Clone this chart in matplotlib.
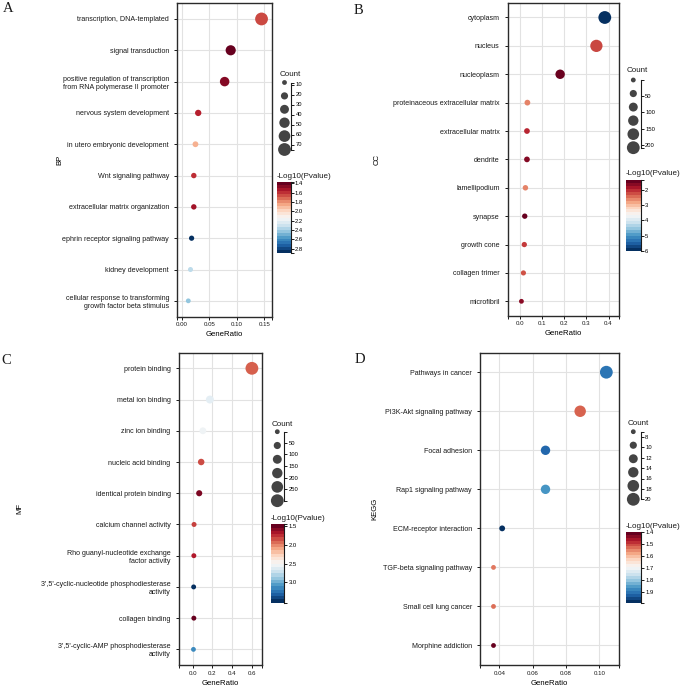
import numpy as np
import matplotlib
matplotlib.use("Agg")
import matplotlib.pyplot as plt
from matplotlib import cm, colors, ticker

plt.rcParams['font.family'] = ['Liberation Sans', 'DejaVu Sans']
plt.rcParams['text.color'] = '#1a1a1a'

W, H = 685, 688

# BP
bp_terms = ["transcription, DNA-templated", "signal transduction",
            "positive regulation of transcription\nfrom RNA polymerase II promoter",
            "nervous system development", "in utero embryonic development",
            "Wnt signaling pathway", "extracellular matrix organization",
            "ephrin receptor signaling pathway", "kidney development",
            "cellular response to transforming\ngrowth factor beta stimulus"]
bp_ratio = [0.145, 0.089, 0.078, 0.030, 0.025, 0.022, 0.022, 0.018, 0.016, 0.012]
bp_count = [75, 46, 40, 16, 13, 11, 11, 10, 9, 8]
bp_logp = [1.64, 1.38, 1.44, 1.55, 1.87, 1.58, 1.50, 2.90, 2.34, 2.44]

# CC
cc_terms = ["cytoplasm", "nucleus", "nucleoplasm", "proteinaceous extracellular matrix",
            "extracellular matrix", "dendrite", "lamellipodium", "synapse",
            "growth cone", "collagen trimer", "microfibril"]
cc_ratio = [0.383, 0.345, 0.181, 0.033, 0.031, 0.031, 0.024, 0.021, 0.019, 0.015, 0.006]
cc_count = [208, 188, 99, 18, 17, 17, 13, 11, 10, 8, 3]
cc_logp = [6.0, 2.1, 1.36, 2.5, 1.89, 1.52, 2.5, 1.33, 2.03, 2.17, 1.56]

# MF
mf_terms = ["protein binding", "metal ion binding", "zinc ion binding",
            "nucleic acid binding", "identical protein binding",
            "calcium channel activity",
            "Rho guanyl-nucleotide exchange\nfactor activity",
            "3',5'-cyclic-nucleotide phosphodiesterase\nactivity",
            "collagen binding",
            "3',5'-cyclic-AMP phosphodiesterase\nactivity"]
mf_ratio = [0.598, 0.174, 0.103, 0.086, 0.066, 0.014, 0.012, 0.010, 0.012, 0.008]
mf_count = [299, 87, 52, 43, 33, 7, 6, 5, 6, 3]
mf_logp = [1.87, 2.60, 2.54, 1.81, 1.51, 1.78, 1.66, 3.54, 1.45, 3.16]

# KEGG
kegg_terms = ["Pathways in cancer", "PI3K-Akt signaling pathway", "Focal adhesion",
              "Rap1 signaling pathway", "ECM-receptor interaction",
              "TGF-beta signaling pathway", "Small cell lung cancer",
              "Morphine addiction"]
kegg_ratio = [0.1042, 0.0885, 0.0677, 0.0677, 0.0417, 0.0365, 0.0365, 0.0365]
kegg_count = [20, 17, 13, 13, 8, 7, 7, 7]
kegg_logp = [1.91, 1.52, 1.93, 1.87, 1.99, 1.54, 1.53, 1.40]

SMIN, SMAX = 12, 85
INK = '#1a1a1a'


def rect(x0, y0, x1, y1):
    return [x0 / W, 1 - y1 / H, (x1 - x0) / W, (y1 - y0) / H]


def sizes(vals, cmin, cmax):
    vals = np.asarray(vals, dtype=float)
    return SMIN + (vals - cmin) / (cmax - cmin) * (SMAX - SMIN)


def panel(fig, letter, ylabel, terms, ratio, count, logp, box, xlim, xticks, xfmt,
          letter_xy, ylab_x, xlab_y, leg, size_ticks, cbar_ticks, cbar_fmt):
    ax = fig.add_axes(rect(*box))
    cmin, cmax = min(count), max(count)
    norm = colors.Normalize(min(logp), max(logp))
    y = np.arange(len(terms))
    ax.scatter(ratio, y, s=sizes(count, cmin, cmax), c=logp, cmap='RdBu', norm=norm,
               edgecolors='none', zorder=3)
    ax.set_yticks(y, terms, fontsize=5.1)
    ax.set_ylim(len(terms) - 0.5, -0.5)
    ax.set_xlim(*xlim)
    ax.set_xticks(xticks)
    ax.xaxis.set_major_formatter(ticker.FormatStrFormatter(xfmt))
    ax.set_xticks(xlim, minor=True)
    ax.tick_params(axis='x', labelsize=4.4, pad=2)
    ax.tick_params(which='both', length=2.2, width=0.7, color=INK, labelcolor=INK)
    ax.grid(True, color='#e2e2e2', lw=0.8)
    ax.set_axisbelow(True)
    for s in ax.spines.values():
        s.set_linewidth(1.0)
        s.set_color('#2a2a2a')
    ax.set_xlabel('GeneRatio', fontsize=5.6, va='center')
    ax.set_ylabel(ylabel, fontsize=5.6, va='center')
    ax.xaxis.set_label_coords(((box[0] + box[2]) / 2) / W, 1 - xlab_y / H, transform=fig.transFigure)
    ax.yaxis.set_label_coords(ylab_x / W, 1 - ((box[1] + box[3]) / 2) / H, transform=fig.transFigure)
    fig.text(letter_xy[0] / W, 1 - letter_xy[1] / H, letter, family='Liberation Serif',
             fontsize=10.5, va='center', ha='left')

    # size legend
    lx, sx, ly0, ly1 = leg['dots']
    lax = fig.add_axes(rect(lx, ly0, sx, ly1))
    keys = np.linspace(cmin, cmax, 6)
    lax.scatter(np.zeros(6), keys, s=sizes(keys, cmin, cmax), color='#444444',
                edgecolors='none', clip_on=False)
    lax.set_xlim(0, 1)
    lax.set_ylim(cmax, cmin)
    for k in ['left', 'top', 'bottom']:
        lax.spines[k].set_visible(False)
    lax.spines['right'].set_linewidth(0.8)
    lax.spines['right'].set_color(INK)
    lax.set_xticks([])
    lax.yaxis.tick_right()
    lax.set_yticks(size_ticks)
    lax.set_yticks([cmin, cmax], minor=True)
    lax.tick_params(which='both', length=2.2, width=0.7, labelsize=4.2, pad=1, color=INK)
    lax.patch.set_visible(False)
    tx, ty = leg['count_title']
    fig.text(tx / W, 1 - ty / H, 'Count', fontsize=5.8, va='center', ha='left')

    # colour bar
    cx0, cx1, cy0, cy1 = leg['cbar']
    cax = fig.add_axes(rect(cx0, cy0, cx1, cy1))
    sm = cm.ScalarMappable(norm=norm, cmap=plt.get_cmap('RdBu', 24))
    cb = fig.colorbar(sm, cax=cax, ticks=cbar_ticks, format=cbar_fmt)
    cb.outline.set_visible(False)
    cax.invert_yaxis()
    cax.spines['right'].set_visible(True)
    cax.spines['right'].set_linewidth(0.8)
    cax.spines['right'].set_color(INK)
    cb.minorticks_off()
    cax.set_yticks([norm.vmin, norm.vmax], minor=True)
    cax.tick_params(which='both', length=2.2, width=0.7, labelsize=4.2, pad=1, color=INK)
    tx, ty = leg['cbar_title']
    fig.text(tx / W, 1 - ty / H, '-Log10(Pvalue)', fontsize=5.8, va='center', ha='left')
    return ax


def main():
    fig = plt.figure(figsize=(W / 100, H / 100), dpi=100)

    panel(fig, 'A', 'BP', bp_terms, bp_ratio, bp_count, bp_logp,
          (177, 3.3, 272, 316.5), (-0.0085, 0.164), [0, 0.05, 0.10, 0.15], '%.2f',
          (3, 8), 60, 334,
          {'dots': (284.5, 291, 82.5, 149.5), 'count_title': (279.3, 74),
           'cbar': (277.3, 290.5, 182.3, 253.3), 'cbar_title': (276.7, 176.7)},
          [10, 20, 30, 40, 50, 60, 70], [1.4, 1.6, 1.8, 2.0, 2.2, 2.4, 2.6, 2.8], '%.1f')

    panel(fig, 'B', 'CC', cc_terms, cc_ratio, cc_count, cc_logp,
          (507.5, 3.3, 618.5, 315.5), (-0.057, 0.445), [0, 0.1, 0.2, 0.3, 0.4], '%.1f',
          (354, 10), 376.7, 333.3,
          {'dots': (633.3, 640.7, 80, 147.7), 'count_title': (626.7, 71),
           'cbar': (626, 640.5, 180, 250.7), 'cbar_title': (626, 173.3)},
          [50, 100, 150, 200], [2, 3, 4, 5, 6], '%d')

    panel(fig, 'C', 'MF', mf_terms, mf_ratio, mf_count, mf_logp,
          (178.5, 352.7, 262, 665), (-0.143, 0.70), [0, 0.2, 0.4, 0.6], '%.1f',
          (1, 360.7), 20, 683.3,
          {'dots': (277.3, 284, 431.7, 500.7), 'count_title': (271.7, 424),
           'cbar': (271, 284, 524.3, 602.7), 'cbar_title': (271, 519)},
          [50, 100, 150, 200, 250], [1.5, 2.0, 2.5, 3.0], '%.1f')

    panel(fig, 'D', 'KEGG', kegg_terms, kegg_ratio, kegg_count, kegg_logp,
          (480, 352.7, 619, 665), (0.0284, 0.1118), [0.04, 0.06, 0.08, 0.10], '%.2f',
          (355, 359.3), 375, 683.3,
          {'dots': (633.3, 640.7, 431.7, 499.3), 'count_title': (627.3, 423.3),
           'cbar': (626, 640.7, 531.7, 602.7), 'cbar_title': (626, 526)},
          [8, 10, 12, 14, 16, 18, 20], [1.4, 1.5, 1.6, 1.7, 1.8, 1.9], '%.1f')

    fig.savefig('out.png', dpi=100)


if __name__ == '__main__':
    main()
